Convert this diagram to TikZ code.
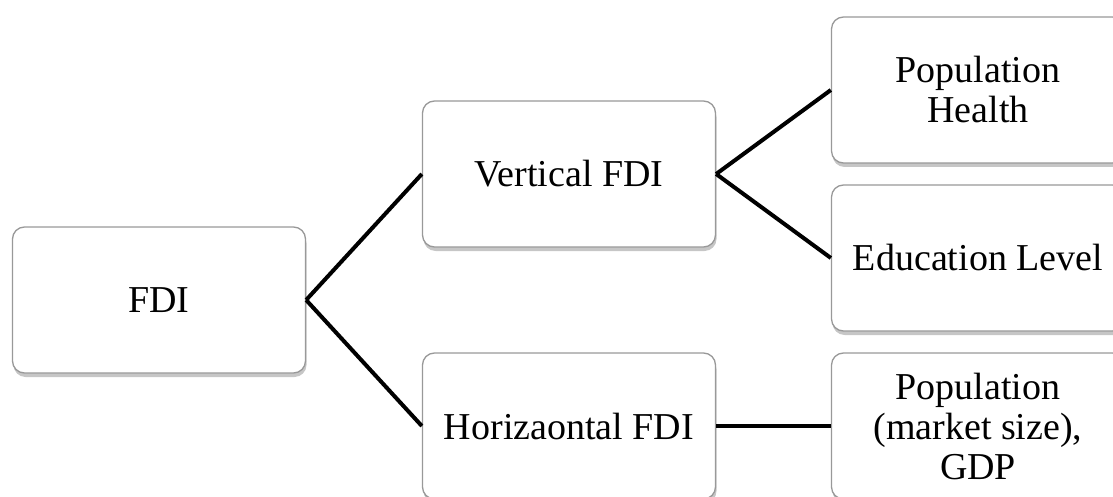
\documentclass[tikz,border=0pt]{standalone}
\usepackage{fontspec}
\setmainfont{Liberation Serif}
\usetikzlibrary{shadows}
\tikzset{x=1pt, y=-1pt,
    every node/.style={
        font=\fontsize{38}{40}\selectfont},
    fdibox/.style={
        draw=gray!80,
        line width=1.3pt,
        fill=white,
        rounded corners=12pt,
        minimum width=293pt,
        minimum height=146pt,
        inner sep=0pt,
        align=center,
        drop shadow={shadow xshift=1pt, shadow yshift=-4pt, opacity=0.45, fill=gray}},
    link/.style={
        draw,
        line width=4pt,
        black}}

\begin{document}
\begin{tikzpicture}
        \useasboundingbox (0,0) rectangle (1113,497);
        \clip (0,0) rectangle (1113,497);
        \node[fdibox] (fdi) at (159,300) {FDI};
        \node[fdibox] (vert) at (569,174) {Vertical FDI};
        \node[fdibox] (hori) at (569,426) {Horizaontal FDI};
        \node[fdibox] (health) at (978,90) {Population\\Health};
        \node[fdibox] (edu) at (978,258) {Education Level};
        \node[fdibox] (market) at (978,426) {Population\\(market size),\\GDP};
        \draw[link] (fdi.east) -- (vert.west);
        \draw[link] (fdi.east) -- (hori.west);
        \draw[link] (vert.east) -- (health.west);
        \draw[link] (vert.east) -- (edu.west);
        \draw[link] (hori.east) -- (market.west);
\end{tikzpicture}
\end{document}
